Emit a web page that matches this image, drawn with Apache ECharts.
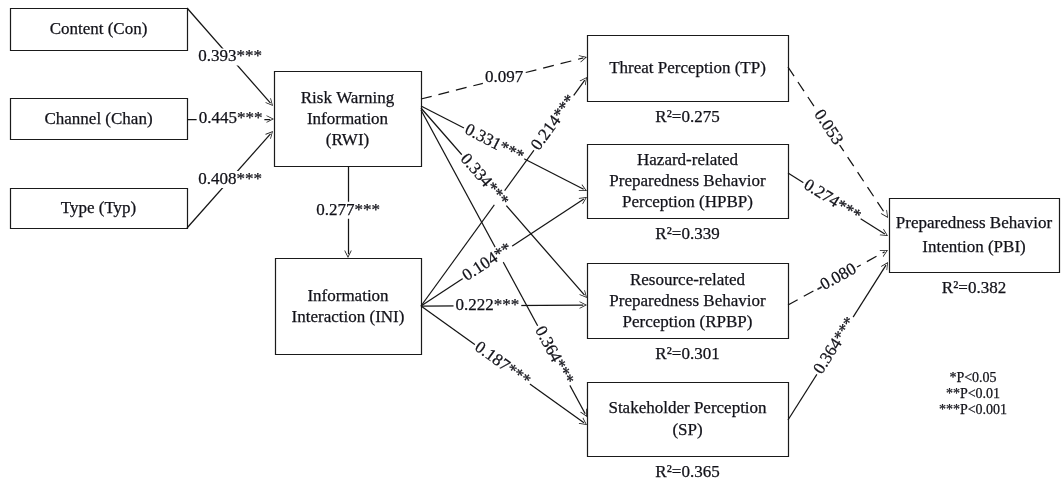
<!DOCTYPE html>
<html>
<head>
<meta charset="utf-8">
<script src="https://cdn.jsdelivr.net/npm/echarts@6/dist/echarts.min.js"></script>
<style>html,body{margin:0;padding:0;background:#fff;}#c{width:1061px;height:482px;}</style>
</head>
<body>
<div id="c"></div>
<script>
// ---------- data ----------
const nodeIds = ['Con','Chan','Typ','RWI','INI','TP','HPBP','RPBP','SP','PBI'];
const nodeTexts = ['Content (Con)','Channel (Chan)','Type (Typ)','Risk Warning\nInformation\n(RWI)','Information\nInteraction (INI)','Threat Perception (TP)','Hazard-related\nPreparedness Behavior\nPerception (HPBP)','Resource-related\nPreparedness Behavior\nPerception (RPBP)','Stakeholder Perception\n(SP)','Preparedness Behavior\nIntention (PBI)'];
const pathFrom = ['Con','Chan','Typ','RWI','RWI','RWI','RWI','RWI','INI','INI','INI','INI','TP','HPBP','RPBP','SP'];
const pathTo   = ['RWI','RWI','RWI','INI','TP','HPBP','RPBP','SP','TP','HPBP','RPBP','SP','PBI','PBI','PBI','PBI'];
const pathCoef = [0.393,0.445,0.408,0.277,0.097,0.331,0.334,0.364,0.214,0.104,0.222,0.187,0.053,0.274,-0.080,0.364];
const pathSig  = ['***','***','***','***','','***','***','***','***','**','***','***','','***','','***'];
const r2Nodes  = ['TP','HPBP','RPBP','SP','PBI'];
const r2Values = [0.275,0.339,0.301,0.365,0.382];
const sigNotes = ['*P<0.05','**P<0.01','***P<0.001'];

// ---------- layout (diagram geometry) ----------
const boxLayout = {
  Con:[10,8,187,50], Chan:[10,98,187,139], Typ:[10,188,187,228],
  RWI:[274,71,421,166], INI:[275,258,421,354],
  TP:[587,35,788,101], HPBP:[587,144,788,218], RPBP:[587,263,788,338], SP:[587,382,788,456],
  PBI:[889,198,1059,272]
};
const boxLineHeight = {RWI:21, INI:21, HPBP:21, RPBP:21, SP:22, PBI:24};
// start x,y ; arrow tip x,y ; label fraction along path ; label follows line angle
const pathLayout = [
  [187,8,273,106,0.5,false],
  [187,119,274,119,0.5,false],
  [187,228,273,131,0.5,false],
  [348,166,348,258,0.48,false],
  [421,99,587,57,0.5,false],
  [421,106,587,191,0.44,true],
  [421,108,587,298,0.38,true],
  [421,110,587,417,0.8,true],
  [421,306,587,77,0.8,true],
  [421,306,587,197,0.4,true],
  [421,306,587,305,0.4,false],
  [421,306,587,425,0.49,true],
  [788,67,888,218,0.4,true],
  [788,173,888,236,0.44,true],
  [788,305,888,250,0.48,true],
  [788,420,888,262,0.47,true]
];
const r2Offset = 17;
const notePos = [973,378];
const noteStep = 16;

// ---------- build ----------
const TXT = '#111118';
const FONT = 'Liberation Serif';
const chevron = 'path://M0,10 L5,0 L10,10 L8.9,10 L5,2.2 L1.1,10 Z';
const ARROW_W = 11, ARROW_LEN = 7.5;

const boxData = nodeIds.map((id,i) => boxLayout[id].concat([i]));

const lineData = [], edgeLabelData = [];
pathFrom.forEach((f,i) => {
  const L = pathLayout[i];
  const dx = L[2]-L[0], dy = L[3]-L[1];
  const len = Math.sqrt(dx*dx+dy*dy);
  const ex = L[2] - dx/len*ARROW_LEN/2, ey = L[3] - dy/len*ARROW_LEN/2;
  const dashed = pathSig[i] === '';
  lineData.push({
    coords:[[L[0],L[1]],[ex,ey]],
    lineStyle:{type: dashed ? [11,7] : 'solid'}
  });
  const t = L[4];
  const lx = L[0]+dx*t, ly = L[1]+dy*t;
  const rot = L[5] ? -Math.atan2(dy,dx)*180/Math.PI : 0;
  const txt = (pathCoef[i] < 0 ? '-' : '') + Math.abs(pathCoef[i]).toFixed(3) + pathSig[i];
  edgeLabelData.push({value:[lx,ly], label:{formatter: txt, rotate: rot}});
});

const r2Data = r2Nodes.map((id,i) => {
  const b = boxLayout[id];
  return {value:[(b[0]+b[2])/2, b[3]+r2Offset], label:{formatter:'R\u00B2=' + r2Values[i].toFixed(3)}};
});
const noteData = sigNotes.map((s,i) => ({value:[notePos[0], notePos[1]+i*noteStep], label:{formatter:s}}));

const txtLabel = (size) => ({show:true, position:'inside', color:TXT, fontFamily:FONT, fontSize:size,
  textBorderColor:TXT, textBorderWidth:0.25});

const chart = echarts.init(document.getElementById('c'));
chart.setOption({
  animation:false,
  backgroundColor:'#fff',
  grid:{left:0,right:0,top:0,bottom:0},
  xAxis:{type:'value',min:0,max:1061,show:false},
  yAxis:{type:'value',min:0,max:482,inverse:true,show:false},
  series:[
    {
      type:'custom', z:1, silent:true,
      data: boxData,
      renderItem: function(params, api){
        const p1 = api.coord([api.value(0), api.value(1)]);
        const p2 = api.coord([api.value(2), api.value(3)]);
        const idx = api.value(4);
        const id = nodeIds[idx];
        const x = Math.round(p1[0])+0.5, y = Math.round(p1[1])+0.5;
        const w = Math.round(p2[0]) - Math.round(p1[0]), h = Math.round(p2[1]) - Math.round(p1[1]);
        return {
          type:'group',
          children:[
            {type:'rect', shape:{x:x,y:y,width:w,height:h},
             style:{fill:'#fff', stroke:'#1a1a1a', lineWidth:1.2}},
            {type:'text', style:{text:nodeTexts[idx], x:(p1[0]+p2[0])/2, y:(p1[1]+p2[1])/2 + 1,
              align:'center', verticalAlign:'middle', fontFamily:FONT, fontSize:17,
              lineHeight: boxLineHeight[id] || 20, fill:TXT, stroke:TXT, lineWidth:0.25}}
          ]
        };
      }
    },
    {
      type:'lines', coordinateSystem:'cartesian2d', z:2, silent:true,
      symbol:['none', chevron], symbolSize:[ARROW_W, ARROW_LEN],
      lineStyle:{color:'#141414', width:1.25, opacity:1, curveness:0},
      data: lineData
    },
    {
      type:'scatter', z:3, silent:true, symbolSize:1,
      itemStyle:{color:'rgba(0,0,0,0)', opacity:1},
      label:Object.assign(txtLabel(17), {backgroundColor:'#fff', padding:[0,2]}),
      emphasis:{disabled:true},
      data: edgeLabelData
    },
    {
      type:'scatter', z:3, silent:true, symbolSize:1,
      itemStyle:{color:'rgba(0,0,0,0)', opacity:1},
      label:txtLabel(17),
      emphasis:{disabled:true},
      data: r2Data
    },
    {
      type:'scatter', z:3, silent:true, symbolSize:1,
      itemStyle:{color:'rgba(0,0,0,0)', opacity:1},
      label:txtLabel(14),
      emphasis:{disabled:true},
      data: noteData
    }
  ]
});
</script>
</body>
</html>
